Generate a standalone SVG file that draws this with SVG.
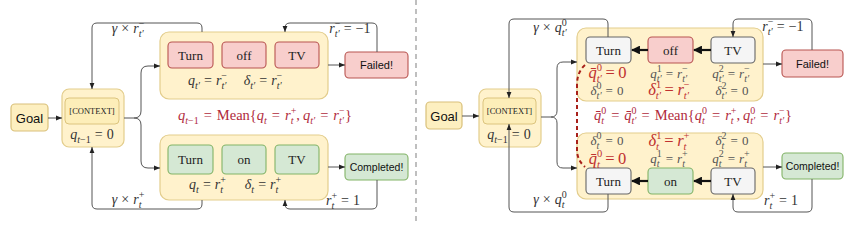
<svg xmlns="http://www.w3.org/2000/svg" width="863" height="225" viewBox="0 0 863 225">
<defs>
<style>
.conn{fill:none;stroke:#555;stroke-width:1}
.thick{fill:none;stroke:#111;stroke-width:2.2}
.grp{fill:#fff2cc;stroke:#e3cd8c;stroke-width:1.2}
.ctxin{fill:#fdeeb9;stroke:#dcc47e;stroke-width:1}
.goal{fill:#fdefc0;stroke:#d9c07a;stroke-width:1.2}
.rbox{fill:#f8cecc;stroke:#b85450;stroke-width:1.1}
.gbox{fill:#d5e8d4;stroke:#82b366;stroke-width:1.1}
.nbox{fill:#f5f5f5;stroke:#666;stroke-width:1.1}
.sans{font-family:"Liberation Sans",Arial,sans-serif;fill:#111;text-anchor:middle}
.f13{font-size:13px}
.f11{font-size:11px}
.f105{font-size:10.5px}
.word{font-family:"Liberation Serif","Times New Roman",serif;font-size:13px;fill:#222;text-anchor:middle}
.ctx{font-size:8.5px}
.m{font-family:"Liberation Serif","Times New Roman",serif;font-style:italic;font-size:14px;fill:#333;text-anchor:middle}
.mf{font-size:14.5px}
.u{font-style:normal}
.s{font-size:10px}
.s2{font-size:10.5px}
.red{fill:#b02a3c}
.gr{fill:#555;font-size:13px}
.big{font-size:16.5px;fill:#c0302f}
.div{stroke:#aaa;stroke-width:1.5;stroke-dasharray:5 4}
.rdash{fill:none;stroke:#a8201a;stroke-width:2;stroke-dasharray:4 3}
</style>
<marker id="ah" viewBox="0 0 10 10" refX="10" refY="5" markerWidth="6" markerHeight="6" orient="auto"><path d="M0,1 L10,5 L0,9 Z" fill="#222"/></marker>
<marker id="ahb" viewBox="0 0 10 10" refX="9" refY="5" markerWidth="4" markerHeight="4" orient="auto"><path d="M0,0 L10,5 L0,10 Z" fill="#111"/></marker>
</defs>
<rect width="863" height="225" fill="#fff"/>
<line class="div" x1="416" y1="0" x2="416" y2="225"/>

<!-- LEFT PANEL -->
<g id="goal-l"><rect class="goal" x="11" y="104" width="37" height="27" rx="4"/><text class="sans f13" x="29.5" y="122.5">Goal</text></g>
<g id="ctx-l"><rect class="grp" x="62" y="89" width="62" height="58" rx="7"/><rect class="ctxin" x="65" y="98" width="54" height="26" rx="4"/><text class="word ctx" x="92" y="114">[CONTEXT]</text>
<text class="m" x="92" y="139">q<tspan class="s" dy="4">t<tspan class="u">−1</tspan></tspan><tspan class="u" dx="4" dy="-4">=</tspan><tspan class="u" dx="4">0</tspan></text></g>
<g id="grp-l-top"><rect class="grp" x="160" y="32" width="168" height="67" rx="9"/>
<rect class="rbox" x="168" y="42" width="45" height="26" rx="4"/><text class="word" x="190.5" y="59.5">Turn</text>
<rect class="rbox" x="222" y="42" width="44" height="26" rx="4"/><text class="word" x="244" y="59.5">off</text>
<rect class="rbox" x="275" y="42" width="44" height="26" rx="4"/><text class="word" x="297" y="59.5">TV</text>
<text class="m" x="207.5" y="85">q<tspan class="s" dy="4">t′</tspan><tspan class="u" dx="4" dy="-4">=</tspan><tspan dx="4">r</tspan><tspan class="s u" dy="-6">−</tspan><tspan class="s" dx="-5.6" dy="10">t′</tspan></text>
<text class="m" x="263" y="85">δ<tspan class="s" dy="4">t′</tspan><tspan class="u" dx="4" dy="-4">=</tspan><tspan dx="4">r</tspan><tspan class="s u" dy="-6">−</tspan><tspan class="s" dx="-5.6" dy="10">t′</tspan></text></g>
<g id="failed-l"><rect class="rbox" x="345" y="52" width="63" height="26" rx="4"/><text class="sans f11" x="376.5" y="69">Failed!</text></g>
<g id="grp-l-bot"><rect class="grp" x="160" y="135" width="168" height="65" rx="9"/>
<rect class="gbox" x="168" y="145" width="45" height="29" rx="4"/><text class="word" x="190.5" y="164">Turn</text>
<rect class="gbox" x="222" y="145" width="44" height="29" rx="4"/><text class="word" x="244" y="164">on</text>
<rect class="gbox" x="275" y="145" width="44" height="29" rx="4"/><text class="word" x="297" y="164">TV</text>
<text class="m" x="207.5" y="189">q<tspan class="s" dy="4">t</tspan><tspan class="u" dx="4" dy="-4">=</tspan><tspan dx="4">r</tspan><tspan class="s u" dy="-6">+</tspan><tspan class="s" dx="-5.6" dy="10">t</tspan></text>
<text class="m" x="263" y="189">δ<tspan class="s" dy="4">t</tspan><tspan class="u" dx="4" dy="-4">=</tspan><tspan dx="4">r</tspan><tspan class="s u" dy="-6">+</tspan><tspan class="s" dx="-5.6" dy="10">t</tspan></text></g>
<g id="completed-l"><rect class="gbox" x="345" y="154" width="63" height="26" rx="4"/><text class="sans f105" x="376.5" y="171">Completed!</text></g>
<g id="formula-l"><text class="m mf red" x="265" y="120">q<tspan class="s" dy="4">t<tspan class="u">−1</tspan></tspan><tspan class="u" dx="5" dy="-4">=</tspan><tspan class="u" dx="5">Mean{</tspan><tspan>q</tspan><tspan class="s" dy="4">t</tspan><tspan class="u" dx="5" dy="-4">=</tspan><tspan dx="5">r</tspan><tspan class="s u" dy="-6">+</tspan><tspan class="s" dx="-5.6" dy="10">t</tspan><tspan class="u" dx="2.8" dy="-4">,</tspan><tspan dx="3">q</tspan><tspan class="s" dy="4">t′</tspan><tspan class="u" dx="5" dy="-4">=</tspan><tspan dx="5">r</tspan><tspan class="s u" dy="-6">−</tspan><tspan class="s" dx="-5.6" dy="10">t′</tspan><tspan class="u" dx="1" dy="-4">}</tspan></text></g>

<g id="connectors-l">
<path class="conn" d="M48,118 H62" marker-end="url(#ah)"/>
<path class="conn" d="M124,118 H134 Q141,118 141,111 V73 Q141,66 148,66 H160" marker-end="url(#ah)"/>
<path class="conn" d="M134,118 Q141,118 141,125 V161 Q141,168 148,168 H160" marker-end="url(#ah)"/>
<path class="conn" d="M328,65 H345" marker-end="url(#ah)"/>
<path class="conn" d="M377,52 V28 Q377,23 372,23 H290 Q285,23 285,28 V32" marker-end="url(#ah)"/>
<path class="conn" d="M202,32 V28 Q202,23 197,23 H97 Q92,23 92,28 V89" marker-end="url(#ah)"/>
<path class="conn" d="M328,167 H345" marker-end="url(#ah)"/>
<path class="conn" d="M377,180 V204 Q377,209 372,209 H290 Q285,209 285,204 V200" marker-end="url(#ah)"/>
<path class="conn" d="M202,200 V204 Q202,209 197,209 H97 Q92,209 92,204 V147" marker-end="url(#ah)"/>
<text class="m" x="128" y="33">γ<tspan class="u" dx="4">×</tspan><tspan dx="4">r</tspan><tspan class="s u" dy="-6">−</tspan><tspan class="s" dx="-5.6" dy="10">t′</tspan></text>
<text class="m" x="350" y="33">r<tspan class="s u" dy="-6">−</tspan><tspan class="s" dx="-5.6" dy="10">t′</tspan><tspan class="u" dx="4" dy="-4">=</tspan><tspan class="u" dx="4">−1</tspan></text>
<text class="m" x="128" y="204">γ<tspan class="u" dx="4">×</tspan><tspan dx="4">r</tspan><tspan class="s u" dy="-6">+</tspan><tspan class="s" dx="-5.6" dy="10">t</tspan></text>
<text class="m" x="343" y="205">r<tspan class="s u" dy="-6">+</tspan><tspan class="s" dx="-5.6" dy="10">t</tspan><tspan class="u" dx="6.8" dy="-4">=</tspan><tspan class="u" dx="4">1</tspan></text>
</g>

<!-- RIGHT PANEL -->
<g id="goal-r"><rect class="goal" x="426" y="102" width="36" height="27" rx="4"/><text class="sans f13" x="444" y="120.5">Goal</text></g>
<g id="ctx-r"><rect class="grp" x="479" y="89" width="62" height="58" rx="7"/><rect class="ctxin" x="483" y="98" width="53" height="26" rx="4"/><text class="word ctx" x="509.5" y="114">[CONTEXT]</text>
<text class="m" x="509" y="139">q<tspan class="s" dy="4">t<tspan class="u">−1</tspan></tspan><tspan class="u" dx="4" dy="-4">=</tspan><tspan class="u" dx="4">0</tspan></text></g>
<g id="grp-r-top"><rect class="grp" x="577" y="28" width="186" height="73" rx="9"/>
<rect class="nbox" x="586" y="37" width="45" height="26" rx="4"/><text class="word" x="608.5" y="54.5">Turn</text>
<rect class="rbox" x="648" y="37" width="45" height="26" rx="4"/><text class="word" x="670.5" y="54.5">off</text>
<rect class="nbox" x="711" y="37" width="44" height="26" rx="4"/><text class="word" x="733" y="54.5">TV</text>
<text class="m big" x="607.5" y="78">q̄<tspan class="s2 u" dy="-7">0</tspan><tspan class="s2" dx="-5.3" dy="11">t′</tspan><tspan class="u" dx="3.5" dy="-4">=</tspan><tspan class="u" dx="3.5">0</tspan></text>
<text class="m gr" x="669" y="78">q<tspan class="s u" dy="-6">1</tspan><tspan class="s" dx="-5" dy="10">t′</tspan><tspan class="u" dx="4" dy="-4">=</tspan><tspan dx="4">r</tspan><tspan class="s u" dy="-6">−</tspan><tspan class="s" dx="-5.6" dy="10">t′</tspan></text>
<text class="m gr" x="731" y="78">q<tspan class="s u" dy="-6">2</tspan><tspan class="s" dx="-5" dy="10">t′</tspan><tspan class="u" dx="4" dy="-4">=</tspan><tspan dx="4">r</tspan><tspan class="s u" dy="-6">−</tspan><tspan class="s" dx="-5.6" dy="10">t′</tspan></text>
<text class="m gr" x="607" y="95">δ<tspan class="s u" dy="-6">0</tspan><tspan class="s" dx="-5" dy="10">t′</tspan><tspan class="u" dx="4" dy="-4">=</tspan><tspan class="u" dx="4">0</tspan></text>
<text class="m big" x="669" y="95">δ<tspan class="s2 u" dy="-7">1</tspan><tspan class="s2" dx="-5.3" dy="11">t′</tspan><tspan class="u" dx="3.5" dy="-4">=</tspan><tspan dx="3.5">r</tspan><tspan class="s2 u" dy="-7">−</tspan><tspan class="s2" dx="-5.9" dy="11">t′</tspan></text>
<text class="m gr" x="732" y="95">δ<tspan class="s u" dy="-6">2</tspan><tspan class="s" dx="-5" dy="10">t′</tspan><tspan class="u" dx="4" dy="-4">=</tspan><tspan class="u" dx="4">0</tspan></text></g>
<g id="failed-r"><rect class="rbox" x="782" y="50" width="61" height="27" rx="4"/><text class="sans f11" x="812.5" y="67.5">Failed!</text></g>
<g id="grp-r-bot"><rect class="grp" x="577" y="133" width="186" height="66" rx="9"/>
<rect class="nbox" x="586" y="168" width="45" height="26" rx="4"/><text class="word" x="608.5" y="185.5">Turn</text>
<rect class="gbox" x="648" y="168" width="45" height="26" rx="4"/><text class="word" x="670.5" y="185.5">on</text>
<rect class="nbox" x="711" y="168" width="44" height="26" rx="4"/><text class="word" x="733" y="185.5">TV</text>
<text class="m gr" x="607" y="145">δ<tspan class="s u" dy="-6">0</tspan><tspan class="s" dx="-5" dy="10">t</tspan><tspan class="u" dx="6.2" dy="-4">=</tspan><tspan class="u" dx="4">0</tspan></text>
<text class="m big" x="669" y="146">δ<tspan class="s2 u" dy="-7">1</tspan><tspan class="s2" dx="-5.3" dy="11">t</tspan><tspan class="u" dx="5.3" dy="-4">=</tspan><tspan dx="3.5">r</tspan><tspan class="s2 u" dy="-7">+</tspan><tspan class="s2" dx="-5.9" dy="11">t</tspan></text>
<text class="m gr" x="732" y="145">δ<tspan class="s u" dy="-6">2</tspan><tspan class="s" dx="-5" dy="10">t</tspan><tspan class="u" dx="6.2" dy="-4">=</tspan><tspan class="u" dx="4">0</tspan></text>
<text class="m big" x="607.5" y="164">q̄<tspan class="s2 u" dy="-7">0</tspan><tspan class="s2" dx="-5.3" dy="11">t</tspan><tspan class="u" dx="5.3" dy="-4">=</tspan><tspan class="u" dx="3.5">0</tspan></text>
<text class="m gr" x="669" y="163">q<tspan class="s u" dy="-6">1</tspan><tspan class="s" dx="-5" dy="10">t</tspan><tspan class="u" dx="6.2" dy="-4">=</tspan><tspan dx="4">r</tspan><tspan class="s u" dy="-6">+</tspan><tspan class="s" dx="-5.6" dy="10">t</tspan></text>
<text class="m gr" x="731" y="163">q<tspan class="s u" dy="-6">2</tspan><tspan class="s" dx="-5" dy="10">t</tspan><tspan class="u" dx="6.2" dy="-4">=</tspan><tspan dx="4">r</tspan><tspan class="s u" dy="-6">+</tspan><tspan class="s" dx="-5.6" dy="10">t</tspan></text></g>
<g id="completed-r"><rect class="gbox" x="782" y="153" width="61" height="26" rx="4"/><text class="sans f105" x="812.5" y="170">Completed!</text></g>
<g id="formula-r"><text class="m mf red" x="693" y="120">q̄<tspan class="s u" dy="-6">0</tspan><tspan class="s" dx="-5" dy="10">t</tspan><tspan class="u" dx="7.2" dy="-4">=</tspan><tspan dx="5">q̄</tspan><tspan class="s u" dy="-6">0</tspan><tspan class="s" dx="-5" dy="10">t′</tspan><tspan class="u" dx="5" dy="-4">=</tspan><tspan class="u" dx="5">Mean{</tspan><tspan>q</tspan><tspan class="s u" dy="-6">0</tspan><tspan class="s" dx="-5" dy="10">t</tspan><tspan class="u" dx="7.2" dy="-4">=</tspan><tspan dx="5">r</tspan><tspan class="s u" dy="-6">+</tspan><tspan class="s" dx="-5.6" dy="10">t</tspan><tspan class="u" dx="2.8" dy="-4">,</tspan><tspan dx="3">q</tspan><tspan class="s u" dy="-6">0</tspan><tspan class="s" dx="-5" dy="10">t′</tspan><tspan class="u" dx="5" dy="-4">=</tspan><tspan dx="5">r</tspan><tspan class="s u" dy="-6">−</tspan><tspan class="s" dx="-5.6" dy="10">t′</tspan><tspan class="u" dx="1" dy="-4">}</tspan></text></g>

<g id="connectors-r">
<path class="conn" d="M462,116 H479" marker-end="url(#ah)"/>
<path class="conn" d="M541,117 H551 Q557,117 557,111 V68 Q557,62 563,62 H577" marker-end="url(#ah)"/>
<path class="conn" d="M551,117 Q557,117 557,123 V162 Q557,168 563,168 H577" marker-end="url(#ah)"/>
<path class="conn" d="M608,37 V24 Q608,19 603,19 H514 Q509,19 509,24 V98" marker-end="url(#ah)"/>
<path class="conn" d="M812,50 V24 Q812,19 807,19 H738 Q733,19 733,24 V37" marker-end="url(#ah)"/>
<path class="conn" d="M763,64 H782" marker-end="url(#ah)"/>
<path class="thick" d="M711,50 H694" marker-end="url(#ahb)"/>
<path class="thick" d="M648,50 H632" marker-end="url(#ahb)"/>
<path class="conn" d="M608,194 V207 Q608,212 603,212 H514 Q509,212 509,207 V124" marker-end="url(#ah)"/>
<path class="conn" d="M812,179 V207 Q812,212 807,212 H738 Q733,212 733,207 V194" marker-end="url(#ah)"/>
<path class="conn" d="M763,167 H782" marker-end="url(#ah)"/>
<path class="thick" d="M711,181 H694" marker-end="url(#ahb)"/>
<path class="thick" d="M648,181 H632" marker-end="url(#ahb)"/>
<path class="rdash" d="M585,65 Q577,72 577,85 V150 Q577,160 585,167"/>
<text class="m" x="550" y="32">γ<tspan class="u" dx="4">×</tspan><tspan dx="4">q</tspan><tspan class="s u" dy="-6">0</tspan><tspan class="s" dx="-5" dy="10">t′</tspan></text>
<text class="m" x="783" y="31">r<tspan class="s u" dy="-6">−</tspan><tspan class="s" dx="-5.6" dy="10">t′</tspan><tspan class="u" dx="4" dy="-4">=</tspan><tspan class="u" dx="4">−1</tspan></text>
<text class="m" x="550" y="204">γ<tspan class="u" dx="4">×</tspan><tspan dx="4">q</tspan><tspan class="s u" dy="-6">0</tspan><tspan class="s" dx="-5" dy="10">t</tspan></text>
<text class="m" x="781" y="205">r<tspan class="s u" dy="-6">+</tspan><tspan class="s" dx="-5.6" dy="10">t</tspan><tspan class="u" dx="6.8" dy="-4">=</tspan><tspan class="u" dx="4">1</tspan></text>
</g>
</svg>
